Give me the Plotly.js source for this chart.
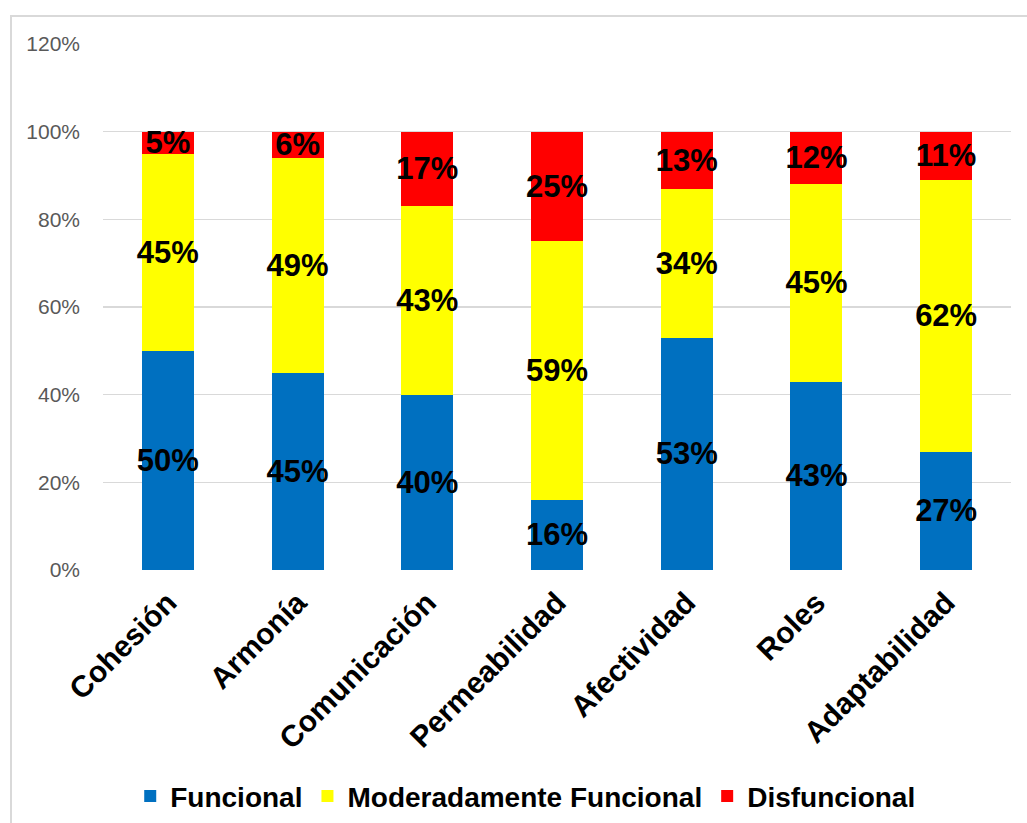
<!DOCTYPE html>
<html>
<head>
<meta charset="utf-8">
<script src="https://cdn.plot.ly/plotly-3.0.1.min.js"></script>
<style>
  html, body { margin: 0; padding: 0; background: #fff; }
  #chart { width: 1027px; height: 823px; position: absolute; left: 0; top: 0; }
  #frame { position: absolute; left: 10px; top: 15px; width: 1030px; height: 820px; border: 2px solid #d9d9d9; box-sizing: border-box; pointer-events: none; }
</style>
</head>
<body>
<div id="chart"></div>
<div id="frame"></div>
<script>
const categories = ["Cohesión", "Armonía", "Comunicación", "Permeabilidad", "Afectividad", "Roles", "Adaptabilidad"];
const funcional = [50, 45, 40, 16, 53, 43, 27];
const moderado = [45, 49, 43, 59, 34, 45, 62];
const disfuncional = [5, 6, 17, 25, 13, 12, 11];
const seriesNames = ["Funcional", "Moderadamente Funcional", "Disfuncional"];
const colors = ["#0070c0", "#ffff00", "#ff0000"];

const FONT = "Liberation Sans, Arial, sans-serif";
function mk(vals, i) {
  return {
    type: "bar",
    name: seriesNames[i],
    x: categories,
    y: vals.map(v => v / 100),
    text: vals.map(v => "<b>" + v + "%</b>"),
    texttemplate: "%{text}",
    textposition: "inside",
    insidetextanchor: "middle",
    textangle: 0,
    constraintext: "none",
    textfont: { family: FONT, size: 31, color: "#000000" },
    marker: { color: colors[i] },
    width: 0.4,
    hoverinfo: "skip"
  };
}
const data = [mk(funcional, 0), mk(moderado, 1), mk(disfuncional, 2)];

const layout = {
  width: 1027, height: 823,
  barmode: "stack",
  margin: { l: 103, r: 16, t: 44, b: 253, autoexpand: false },
  paper_bgcolor: "#ffffff",
  plot_bgcolor: "#ffffff",
  font: { family: FONT },
  xaxis: {
    tickangle: -45,
    tickfont: { family: FONT, size: 30, color: "#000000", weight: "bold" },
    showline: false, showgrid: false, ticks: "", zeroline: false,
    ticklabelstandoff: 8, automargin: false
  },
  yaxis: {
    range: [0, 1.2], dtick: 0.2, tickformat: ".0%",
    tickfont: { family: FONT, size: 21, color: "#595959" },
    gridcolor: "#d9d9d9", gridwidth: 1.5,
    zeroline: false, showline: false, ticks: "", ticklabelstandoff: 22, automargin: false
  },
  showlegend: true,
  legend: {
    orientation: "h", x: 0.465, xanchor: "center", y: -0.43, yanchor: "middle",
    font: { family: FONT, size: 28, color: "#000000", weight: "bold" },
    itemwidth: 30, traceorder: "normal"
  }
};
Plotly.newPlot("chart", data, layout, { displayModeBar: false, staticPlot: true });
</script>
</body>
</html>
